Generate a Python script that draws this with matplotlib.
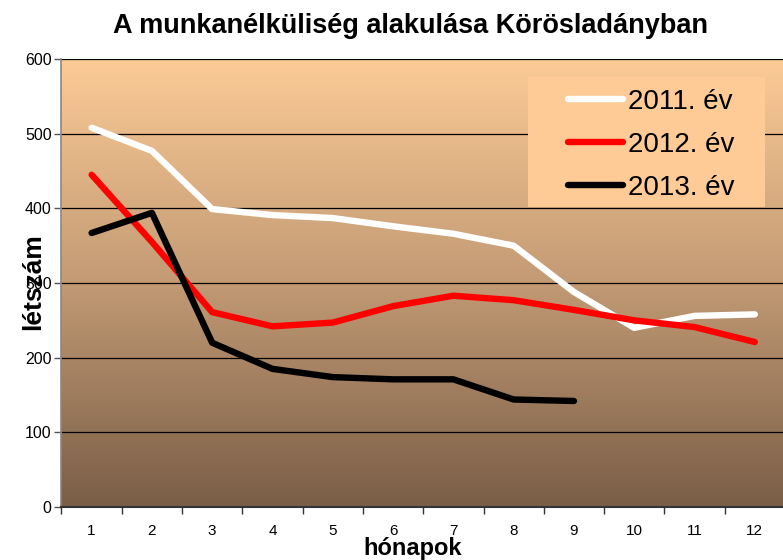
import numpy as np
import matplotlib
matplotlib.use('Agg')
import matplotlib.pyplot as plt
from matplotlib.colors import LinearSegmentedColormap
from matplotlib.patches import Rectangle

plt.rcParams['font.family'] = ['Liberation Sans', 'DejaVu Sans']

# ---------------- data ----------------
months = [1, 2, 3, 4, 5, 6, 7, 8, 9, 10, 11, 12]
y2011 = [508, 477, 399, 391, 387, 376, 366, 350, 288, 240, 256, 258]
y2012 = [445, 355, 261, 242, 247, 269, 283, 277, 264, 250, 241, 221]
y2013 = [367, 394, 220, 185, 174, 171, 171, 144, 142]
labels = ['2011. év', '2012. év', '2013. év']

# ---------------- plot ----------------
fig = plt.figure(figsize=(7.83, 5.6), dpi=100, facecolor='white')
ax = fig.add_axes([0.0785, 0.0946, 0.924, 0.80])

# gradient background of the plot area
bg = LinearSegmentedColormap.from_list('bg', ['#7a5e47', '#c29a74', '#fccb96'])
grad = np.linspace(0, 1, 256).reshape(-1, 1)
ax.imshow(grad, cmap=bg, origin='lower', aspect='auto',
          extent=[0.5, 12.5, 0, 600], zorder=0)

for v in range(100, 601, 100):
    ax.axhline(v, color='black', lw=0.9, zorder=1)

ax.plot(months, y2011, color='white', lw=4.6, label=labels[0], zorder=3,
        solid_capstyle='round')
ax.plot(months, y2012, color='#ff0000', lw=4.6, label=labels[1], zorder=3,
        solid_capstyle='round')
ax.plot(months[:len(y2013)], y2013, color='black', lw=4.6, label=labels[2],
        zorder=3, solid_capstyle='round')

ax.set_xlim(0.5, 12.5)
ax.set_ylim(0, 600)
ax.set_yticks(range(0, 601, 100))
ax.set_xticks(months)
ax.set_xticks(np.arange(0.5, 13, 1), minor=True)
ax.tick_params(axis='x', which='major', length=0, pad=12, labelsize=11)
ax.tick_params(axis='x', which='minor', length=5, width=1, color='#333333')
ax.tick_params(axis='y', length=5, width=1, color='#555555', labelsize=11.5, pad=2)

for s in ['top', 'right']:
    ax.spines[s].set_visible(False)
ax.spines['left'].set_color('#888888')
ax.spines['left'].set_linewidth(1.2)
ax.spines['bottom'].set_color('#333333')
ax.spines['bottom'].set_linewidth(1.5)

fig.text(0.524, 0.954, 'A munkanélküliség alakulása Körösladányban',
         ha='center', va='center', fontsize=19.5, fontweight='bold')
ax.set_xlabel('hónapok', fontsize=17, fontweight='bold')
ax.set_ylabel('létszám', fontsize=19, fontweight='bold')
ax.xaxis.set_label_coords(0.485, -0.066)
ax.yaxis.set_label_coords(-0.022, 0.504)

# legend box
ax.add_patch(Rectangle((0.645, 0.670), 0.3276, 0.290, transform=ax.transAxes,
                       facecolor='#fecb97', edgecolor='none', zorder=2))
leg = ax.legend(loc='upper left', bbox_to_anchor=(0.700, 0.933),
                fontsize=20, frameon=False, handlelength=2.0,
                handletextpad=0.15, labelspacing=0.61, borderpad=0,
                borderaxespad=0)
leg.set_zorder(4)

fig.savefig('out.png', dpi=100, facecolor='white')
